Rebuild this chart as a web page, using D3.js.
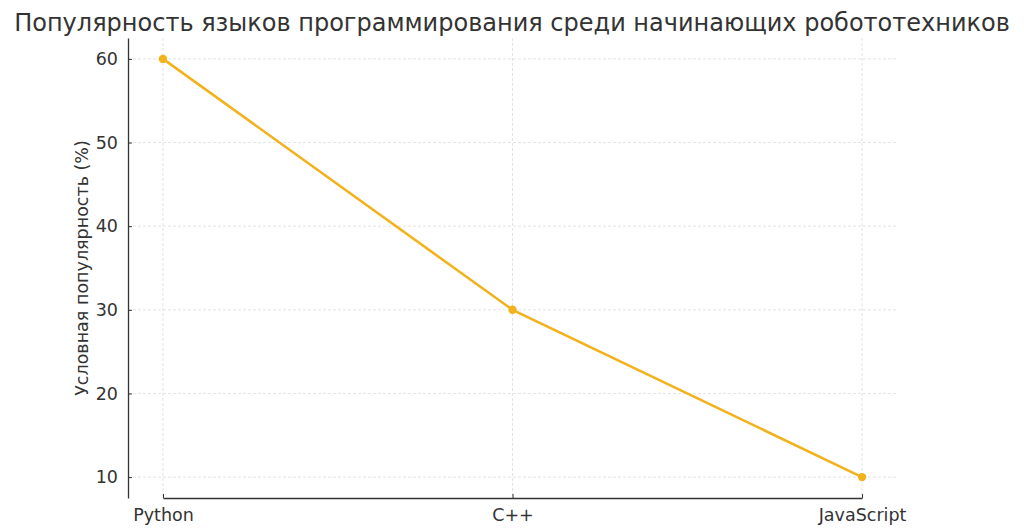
<!DOCTYPE html>
<html>
<head>
<meta charset="utf-8">
<script src="https://cdn.jsdelivr.net/npm/d3@7"></script>
<style>
  body { margin: 0; background: #fff; }
  text { font-family: "DejaVu Sans", sans-serif; fill: #333; }
</style>
</head>
<body>
<script>
const languages = ['Python', 'C++', 'JavaScript'];
const popularity = [60, 30, 10];
const yTicks = [10, 20, 30, 40, 50, 60];

const titleText = 'Популярность языков программирования среди начинающих робототехников';
const yLabel = 'Условная популярность (%)';

const svgValues = {
    width: 1024,
    height: 532,
    padding: { top: 38, bottom: 34, left: 128, right: 127 }
};

const svg = d3.select('body')
    .append('svg')
    .attr('width', svgValues.width)
    .attr('height', svgValues.height);

const plotW = svgValues.width - svgValues.padding.left - svgValues.padding.right;
const plotH = svgValues.height - svgValues.padding.top - svgValues.padding.bottom;

// matplotlib-style 5% margins
const xScale = d3.scalePoint()
    .domain(languages)
    .range([svgValues.padding.left + plotW * 0.05 / 1.1, svgValues.padding.left + plotW - plotW * 0.05 / 1.1]);

const yScale = d3.scaleLinear()
    .domain([7.5, 62.5])
    .range([svgValues.padding.top + plotH, svgValues.padding.top]);

// grid
const grid = svg.append('g').attr('stroke', '#dcdcdc').attr('stroke-dasharray', '3,2').attr('stroke-width', 0.8);
grid.selectAll('.hgrid')
    .data(yTicks)
    .enter()
    .append('line')
    .attr('x1', svgValues.padding.left)
    .attr('x2', svgValues.padding.left + plotW)
    .attr('y1', d => yScale(d))
    .attr('y2', d => yScale(d));
grid.selectAll('.vgrid')
    .data(languages)
    .enter()
    .append('line')
    .attr('x1', d => xScale(d))
    .attr('x2', d => xScale(d))
    .attr('y1', svgValues.padding.top)
    .attr('y2', svgValues.padding.top + plotH);

// axes, ticks point inward
const xAxis = d3.axisBottom(xScale).tickSizeInner(-4).tickSizeOuter(0).tickPadding(10);
const yAxis = d3.axisLeft(yScale).tickValues(yTicks).tickSizeInner(-4).tickSizeOuter(0).tickPadding(10);

const gx = svg.append('g')
    .attr('transform', 'translate(0,' + (svgValues.padding.top + plotH) + ')')
    .call(xAxis);
const gy = svg.append('g')
    .attr('transform', 'translate(' + svgValues.padding.left + ',0)')
    .call(yAxis);

[gx, gy].forEach(g => {
    g.select('.domain').attr('stroke', '#333').attr('stroke-width', 1.3);
    g.selectAll('.tick line').attr('stroke', '#333').attr('stroke-width', 1);
    g.selectAll('.tick text').style('font-size', '17.5px').style('fill', '#333');
});
gx.selectAll('.tick text').attr('dy', '0.75em');

// line
const line = d3.line()
    .x((d, i) => xScale(languages[i]))
    .y(d => yScale(d));

svg.append('path')
    .datum(popularity)
    .attr('d', line)
    .attr('fill', 'none')
    .attr('stroke', '#f2b21c')
    .attr('stroke-width', 2.6);

svg.selectAll('.dot')
    .data(popularity)
    .enter()
    .append('circle')
    .attr('cx', (d, i) => xScale(languages[i]))
    .attr('cy', d => yScale(d))
    .attr('r', 4.2)
    .attr('fill', '#f2b21c');

// title
svg.append('text')
    .text(titleText)
    .attr('text-anchor', 'middle')
    .attr('x', svgValues.width / 2)
    .attr('y', 31)
    .style('font-size', '24px');

// y label
svg.append('text')
    .text(yLabel)
    .attr('text-anchor', 'middle')
    .attr('transform', 'translate(88,' + (svgValues.padding.top + plotH / 2) + ') rotate(-90)')
    .style('font-size', '17.5px');
</script>
</body>
</html>
